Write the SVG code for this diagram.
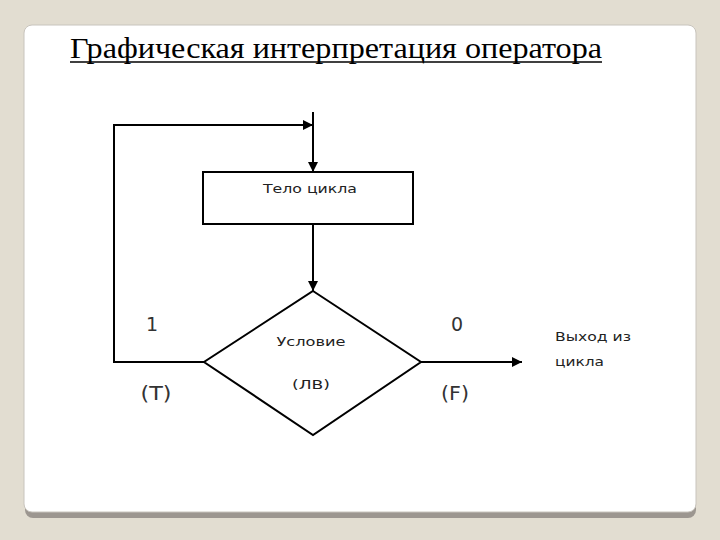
<svg xmlns="http://www.w3.org/2000/svg" width="720" height="540" viewBox="0 0 720 540">
<defs>
<marker id="arr" viewBox="0 0 10 10" refX="10" refY="5" markerWidth="10" markerHeight="10" markerUnits="userSpaceOnUse" orient="auto">
<path d="M0,0 L10,5 L0,10 z" fill="#000"/>
</marker>
</defs>
<style>
.ln{fill:none;stroke:#000;stroke-width:2}
.shape{fill:#fff;stroke:#000;stroke-width:2}
.lbl{font-family:"DejaVu Sans",Verdana,sans-serif;font-size:13px;fill:#222;text-anchor:middle}
.num{font-family:"DejaVu Sans",Verdana,sans-serif;font-size:19px;fill:#333;text-anchor:middle}
.title{font-family:"Liberation Serif","Times New Roman",serif;font-size:30px;fill:#000}
</style>
<rect x="0" y="0" width="720" height="540" fill="#e2ddd1"/>
<rect x="25" y="29" width="671" height="489" rx="8" fill="#9c9690"/>
<rect x="24" y="25" width="672" height="487" rx="8" fill="#fff" stroke="#c8c4bd" stroke-width="1"/>
<text class="title" x="70" y="58" textLength="532" lengthAdjust="spacingAndGlyphs">Графическая интерпретация оператора</text>
<line x1="70" y1="62" x2="602" y2="62" stroke="#000" stroke-width="1.5"/>
<g id="connectors">
<polyline class="ln" points="204,362 114,362 114,125 313,125" marker-end="url(#arr)"/>
<line class="ln" x1="313" y1="112" x2="313" y2="172" marker-end="url(#arr)"/>
<line class="ln" x1="313" y1="224" x2="313" y2="291" marker-end="url(#arr)"/>
<line class="ln" x1="421" y1="362" x2="522" y2="362" marker-end="url(#arr)"/>
</g>
<g id="body">
<rect class="shape" x="203" y="172" width="210" height="52"/>
<text class="lbl" x="310" y="193" textLength="94" lengthAdjust="spacingAndGlyphs">Тело цикла</text>
</g>
<g id="condition">
<polygon class="shape" stroke-width="1.5" points="313,291 421,362 313,435 204,362"/>
<text class="lbl" x="311" y="346" textLength="69" lengthAdjust="spacingAndGlyphs">Условие</text>
<text class="lbl" x="311" y="389" textLength="38" lengthAdjust="spacingAndGlyphs">(ЛВ)</text>
</g>
<g id="labels">
<text class="num" x="152" y="331">1</text>
<text class="num" x="156" y="400" textLength="31" lengthAdjust="spacingAndGlyphs">(T)</text>
<text class="num" x="457" y="331">0</text>
<text class="num" x="455" y="400" textLength="28" lengthAdjust="spacingAndGlyphs">(F)</text>
</g>
<g id="exit">
<text class="lbl" style="text-anchor:start" x="555" y="341" textLength="76" lengthAdjust="spacingAndGlyphs">Выход из</text>
<text class="lbl" style="text-anchor:start" x="555" y="366" textLength="49" lengthAdjust="spacingAndGlyphs">цикла</text>
</g>
</svg>
